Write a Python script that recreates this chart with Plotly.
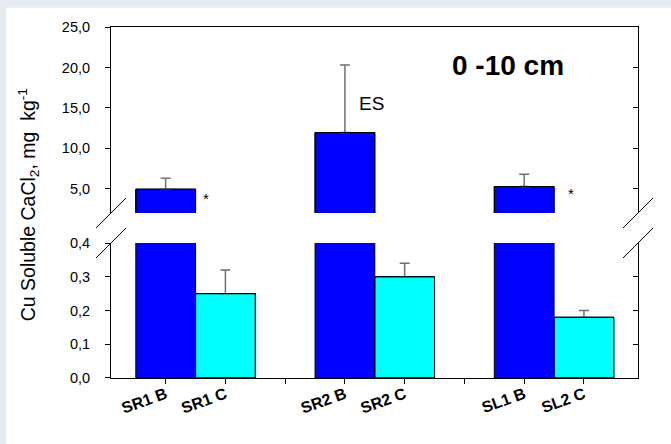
import plotly.graph_objects as go

# ---- data ----
tick_labels = ["SR1 B", "SR1 C", "", "SR2 B", "SR2 C", "", "SL1 B", "SL2 C"]
b_labels = ["SR1 B", "SR2 B", "SL1 B"]
b_values = [4.95, 11.95, 5.28]
b_err = [1.35, 8.35, 1.5]
c_labels = ["SR1 C", "SR2 C", "SL2 C"]
c_values = [0.25, 0.30, 0.18]
c_err = [0.07, 0.04, 0.02]
upper_ticks = [5, 10, 15, 20, 25]
lower_ticks = [0.0, 0.1, 0.2, 0.3, 0.4]

pos = {lab: i + 1 for i, lab in enumerate(tick_labels) if lab}
all_tickvals = list(range(1, len(tick_labels) + 1))
lab_vals = [pos[l] for l in tick_labels if l]
lab_text = ["<b>%s</b>" % l for l in tick_labels if l]
bx = [pos[l] for l in b_labels]
cx = [pos[l] for l in c_labels]

FONT = "Arial, Liberation Sans, sans-serif"
BLUE = "#0000ff"
CYAN = "#00ffff"
ERRC = "#707070"
OUTLINE = dict(color="black", width=1)

fig = go.Figure()
# upper panel: blue bars with error bars
fig.add_trace(go.Bar(x=bx, y=b_values, width=1.0, marker=dict(color=BLUE, line=OUTLINE),
                     error_y=dict(type="data", array=b_err, arrayminus=[0] * 3, symmetric=False,
                                  color=ERRC, thickness=1.5, width=5),
                     xaxis="x2", yaxis="y2", showlegend=False))
fig.add_trace(go.Bar(x=bx, y=b_values, width=1.0, marker=dict(color="rgba(0,0,0,0)", line=OUTLINE),
                     xaxis="x2", yaxis="y2", showlegend=False, hoverinfo="skip"))
# lower panel: blue bars (clipped) and cyan bars
fig.add_trace(go.Bar(x=bx, y=b_values, width=1.0, marker=dict(color=BLUE, line=OUTLINE),
                     xaxis="x", yaxis="y", showlegend=False))
fig.add_trace(go.Bar(x=cx, y=c_values, width=1.0, marker=dict(color=CYAN, line=OUTLINE),
                     error_y=dict(type="data", array=c_err, arrayminus=[0] * 3, symmetric=False,
                                  color=ERRC, thickness=1.5, width=5),
                     xaxis="x", yaxis="y", showlegend=False))
fig.add_trace(go.Bar(x=cx, y=c_values, width=1.0, marker=dict(color="rgba(0,0,0,0)", line=OUTLINE),
                     xaxis="x", yaxis="y", showlegend=False, hoverinfo="skip"))

xr = [0.085, 8.905]
low_dom = [0, 0.3846]
up_dom = [0.470, 1.0]

axis_common = dict(showgrid=False, zeroline=False, linecolor="black", linewidth=1,
                   tickcolor="black", ticklen=5, tickwidth=1)

fig.update_layout(
    width=671, height=444,
    margin=dict(l=111, r=33, t=27, b=66),
    paper_bgcolor="#e5ebf0",
    plot_bgcolor="white",
    barmode="overlay",
    separators=",.",
    font=dict(family=FONT, color="black", size=14),
    xaxis=dict(range=xr, tickvals=lab_vals, ticktext=lab_text, ticks="", showline=True,
               tickangle=-20, tickfont=dict(size=16, family=FONT, color="black"),
               anchor="y", **axis_common),
    xaxis3=dict(range=xr, overlaying="x", anchor="y", tickvals=all_tickvals, ticks="outside",
                showticklabels=False, showline=False, **axis_common),
    xaxis2=dict(range=xr, matches="x", anchor="y2", side="top", showline=True, ticks="",
                showticklabels=False, **axis_common),
    yaxis=dict(domain=low_dom, range=[0, 0.4], tickvals=lower_ticks, tickformat=".1f", ticks="outside",
               showline=True, anchor="x", ticklabelstandoff=12, tickfont=dict(size=14.5), **axis_common),
    yaxis2=dict(domain=up_dom, range=[2, 25], tickvals=upper_ticks, tickformat=".1f", ticks="outside",
                showline=True, anchor="x2", ticklabelstandoff=12, tickfont=dict(size=14.5), **axis_common),
    yaxis3=dict(overlaying="y", side="right", anchor="x", range=[0, 0.4], tickvals=lower_ticks,
                ticks="inside", showticklabels=False, showline=True, **axis_common),
    yaxis4=dict(overlaying="y2", side="right", anchor="x2", range=[2, 25], tickvals=upper_ticks,
                ticks="inside", showticklabels=False, showline=True, **axis_common),
)

# invisible traces so the extra axes render
fig.add_trace(go.Scatter(x=[None], y=[None], xaxis="x", yaxis="y3", showlegend=False, hoverinfo="skip"))
fig.add_trace(go.Scatter(x=[None], y=[None], xaxis="x2", yaxis="y4", showlegend=False, hoverinfo="skip"))
fig.add_trace(go.Scatter(x=[None], y=[None], xaxis="x3", yaxis="y", showlegend=False, hoverinfo="skip"))

# white panel background
fig.add_shape(type="rect", xref="paper", yref="paper", x0=(6 - 111) / 527, x1=1.07,
              y0=-0.2, y1=(378.3 - 8) / 351,
              fillcolor="white", line=dict(width=0), layer="below")

# axis break marks
dx = 15 / 527
dy = 15 / 351
for xb in (0.0, 1.0):
    for yb in (low_dom[1], up_dom[0]):
        fig.add_shape(type="line", xref="paper", yref="paper", x0=xb - dx, y0=yb - dy, x1=xb + dx, y1=yb + dy,
                      line=dict(color="black", width=1))

# annotations
fig.add_annotation(x=6.73, y=20.2, xref="x2", yref="y2", text="<b>0 -10 cm</b>", showarrow=False,
                   font=dict(size=28, family=FONT, color="black"))
fig.add_annotation(x=4.44, y=15.58, xref="x2", yref="y2", text="ES", showarrow=False,
                   font=dict(size=19, family=FONT, color="black"))
fig.add_annotation(x=1.68, y=3.8, xref="x2", yref="y2", text="*", showarrow=False,
                   font=dict(size=15, family=FONT, color="black"))
fig.add_annotation(x=7.78, y=4.45, xref="x2", yref="y2", text="*", showarrow=False,
                   font=dict(size=15, family=FONT, color="black"))
fig.add_annotation(x=(28 - 111) / 527, y=0.492, xref="paper", yref="paper", textangle=-90,
                   xanchor="center", yanchor="middle",
                   text="Cu Soluble CaCl<sub>2</sub>, mg&nbsp; kg<sup>-1</sup>", showarrow=False,
                   font=dict(size=19.5, family=FONT, color="black"))

fig.write_html("out.html", config={"displayModeBar": False},
               post_script="document.body.style.margin='0';document.documentElement.style.overflow='hidden';")
